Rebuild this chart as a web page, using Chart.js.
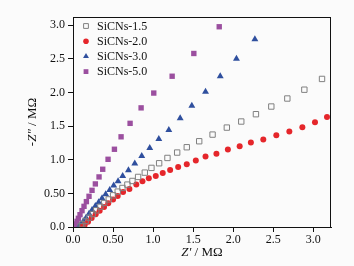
<!DOCTYPE html>
<html>
<head>
<meta charset="utf-8">
<script src="https://cdn.jsdelivr.net/npm/chart.js@4"></script>
<style>
  html, body { margin: 0; padding: 0; background: #fbfbfb; }
  #wrap { width: 354px; height: 266px; }
</style>
</head>
<body>
<div id="wrap"><canvas id="myChart" width="354" height="266"></canvas></div>
<script>
// Nyquist data, Z' and -Z'' in MOhm
var names = ["SiCNs-1.5", "SiCNs-2.0", "SiCNs-3.0", "SiCNs-5.0"];

var x15 = [0.096, 0.117, 0.158, 0.2, 0.246, 0.29, 0.342, 0.39, 0.446, 0.5, 0.558, 0.617, 0.679, 0.742, 0.8125, 0.896, 0.979, 1.075, 1.179, 1.3, 1.42, 1.575, 1.742, 1.92, 2.1, 2.283, 2.475, 2.675, 2.8875, 3.108];
var y15 = [0.01, 0.04, 0.089, 0.139, 0.193, 0.248, 0.302, 0.357, 0.41, 0.471, 0.526, 0.58, 0.63, 0.684, 0.744, 0.808, 0.878, 0.947, 1.026, 1.106, 1.185, 1.274, 1.373, 1.477, 1.567, 1.676, 1.79, 1.909, 2.04, 2.20];

var x20 = [0.117, 0.146, 0.1875, 0.233, 0.283, 0.333, 0.3875, 0.44, 0.5, 0.558, 0.625, 0.704, 0.79, 0.867, 0.946, 1.033, 1.12, 1.2125, 1.3125, 1.42, 1.533, 1.654, 1.79, 1.933, 2.08, 2.22, 2.375, 2.5375, 2.7, 2.8625, 3.02, 3.17];
var y20 = [0.005, 0.035, 0.079, 0.134, 0.188, 0.243, 0.297, 0.352, 0.407, 0.461, 0.52, 0.565, 0.63, 0.679, 0.724, 0.759, 0.803, 0.848, 0.892, 0.932, 0.987, 1.046, 1.09, 1.15, 1.20, 1.254, 1.299, 1.363, 1.418, 1.482, 1.557, 1.636];

var x30 = [0.075, 0.096, 0.129, 0.1625, 0.2, 0.2375, 0.279, 0.32, 0.3625, 0.408, 0.458, 0.508, 0.5625, 0.62, 0.692, 0.771, 0.858, 0.958, 1.071, 1.196, 1.3375, 1.483, 1.654, 1.8375, 2.04, 2.27];
var y30 = [0.005, 0.035, 0.084, 0.139, 0.198, 0.253, 0.312, 0.367, 0.426, 0.486, 0.55, 0.615, 0.68, 0.759, 0.843, 0.942, 1.056, 1.175, 1.309, 1.443, 1.616, 1.80, 2.01, 2.24, 2.50, 2.79];

var x50 = [0.02, 0.033, 0.05, 0.067, 0.0875, 0.1125, 0.1375, 0.167, 0.2, 0.2375, 0.279, 0.325, 0.371, 0.4375, 0.517, 0.6, 0.7125, 0.85, 1.008, 1.2375, 1.508, 1.825];
var y50 = [0.015, 0.045, 0.084, 0.129, 0.183, 0.243, 0.307, 0.377, 0.456, 0.545, 0.64, 0.744, 0.858, 1.006, 1.155, 1.34, 1.54, 1.77, 1.99, 2.24, 2.578, 2.975];

var xTicks = ["0.0", "0.50", "1.0", "1.5", "2.0", "2.5", "3.0"];
var yTicks = ["0.0", "0.50", "1.0", "1.5", "2.0", "2.5", "3.0"];

function pts(xs, ys) {
    var out = [];
    for (var i = 0; i < xs.length; i++) {
        out.push({ x: xs[i], y: ys[i] });
    }
    return out;
}

var serif = "'Liberation Serif', 'Times New Roman', serif";

// box around the plot, legend inside, axis titles with italic Z
var framePlugin = {
    id: "frame",
    afterDraw: function (chart) {
        var ctx = chart.ctx;
        var a = chart.chartArea;
        ctx.save();
        ctx.strokeStyle = "#111";
        ctx.lineWidth = 1;
        ctx.strokeRect(a.left + 0.5, a.top + 0.5, a.right - a.left - 1, a.bottom - a.top);

        // legend
        var sets = chart.data.datasets;
        for (var i = 0; i < sets.length; i++) {
            var ly = a.top + 9 + i * 15.2;
            ctx.fillStyle = sets[i].backgroundColor;
            ctx.strokeStyle = sets[i].borderColor;
            ctx.lineWidth = sets[i].borderWidth;
            Chart.helpers.drawPoint(ctx, {
                pointStyle: sets[i].pointStyle,
                radius: sets[i].pointStyle == "circle" ? 2.8 : 3.4,
                borderWidth: sets[i].borderWidth
            }, a.left + 13, ly);
            ctx.fillStyle = "#111";
            ctx.font = "12px " + serif;
            ctx.textAlign = "left";
            ctx.textBaseline = "middle";
            ctx.fillText(sets[i].label, a.left + 24, ly + 0.5);
        }

        ctx.fillStyle = "#111";
        ctx.textBaseline = "middle";
        // x title
        var p1 = "Z\u2032", p2 = " / M\u03A9";
        ctx.font = "italic 13px " + serif;
        var w1 = ctx.measureText(p1).width;
        ctx.font = "13px " + serif;
        var w2 = ctx.measureText(p2).width;
        var cx = (a.left + a.right) / 2;
        var sx = cx - (w1 + w2) / 2;
        ctx.textAlign = "left";
        ctx.font = "italic 13px " + serif;
        ctx.fillText(p1, sx, 253);
        ctx.font = "13px " + serif;
        ctx.fillText(p2, sx + w1, 253);

        // y title
        ctx.translate(33, (a.top + a.bottom) / 2);
        ctx.rotate(-Math.PI / 2);
        var q0 = "-", q1 = "Z\u2033", q2 = " / M\u03A9";
        ctx.font = "13px " + serif;
        var v0 = ctx.measureText(q0).width;
        var v2 = ctx.measureText(q2).width;
        ctx.font = "italic 13px " + serif;
        var v1 = ctx.measureText(q1).width;
        var s = -(v0 + v1 + v2) / 2;
        ctx.font = "13px " + serif;
        ctx.fillText(q0, s, 0);
        ctx.font = "italic 13px " + serif;
        ctx.fillText(q1, s + v0, 0);
        ctx.font = "13px " + serif;
        ctx.fillText(q2, s + v0 + v1, 0);
        ctx.restore();
    }
};

var ctx = document.getElementById("myChart").getContext("2d");

var myChart = new Chart(ctx, {
    type: "scatter",
    data: {
        datasets: [
            {
                label: names[0],
                data: pts(x15, y15),
                pointStyle: "rect",
                pointRadius: 3.8,
                borderWidth: 1,
                borderColor: "#808080",
                backgroundColor: "rgba(255,255,255,0)"
            },
            {
                label: names[1],
                data: pts(x20, y20),
                pointStyle: "circle",
                pointRadius: 3,
                borderWidth: 0,
                borderColor: "#e5262b",
                backgroundColor: "#e5262b"
            },
            {
                label: names[2],
                data: pts(x30, y30),
                pointStyle: "triangle",
                pointRadius: 4,
                borderWidth: 0,
                borderColor: "#2f4f9e",
                backgroundColor: "#2f4f9e"
            },
            {
                label: names[3],
                data: pts(x50, y50),
                pointStyle: "rect",
                pointRadius: 3.8,
                borderWidth: 0,
                borderColor: "#9b4f9f",
                backgroundColor: "#9b4f9f"
            }
        ]
    },
    options: {
        responsive: false,
        animation: false,
        layout: { padding: { left: 0, right: 23, top: 17, bottom: 0 } },
        plugins: {
            tooltip: { enabled: false },
            legend: { display: false }
        },
        scales: {
            x: {
                type: "linear",
                min: 0,
                max: 3.22,
                afterFit: function (scale) { scale.height = 39; },
                border: { display: true, color: "#111", width: 1 },
                grid: { drawOnChartArea: false, drawTicks: true, tickLength: 5, color: "#111" },
                ticks: {
                    stepSize: 0.5,
                    includeBounds: false,
                    maxRotation: 0,
                    padding: 1,
                    color: "#111",
                    font: { family: serif, size: 12 },
                    callback: function (v) {
                        var i = Math.round(v / 0.5);
                        return xTicks[i];
                    }
                }
            },
            y: {
                type: "linear",
                min: 0,
                max: 3.12,
                afterFit: function (scale) { scale.width = 73; },
                border: { display: true, color: "#111", width: 1 },
                grid: { drawOnChartArea: false, drawTicks: true, tickLength: 5, color: "#111" },
                ticks: {
                    stepSize: 0.5,
                    includeBounds: false,
                    padding: 3,
                    color: "#111",
                    font: { family: serif, size: 12 },
                    callback: function (v) {
                        var i = Math.round(v / 0.5);
                        return yTicks[i];
                    }
                }
            }
        }
    },
    plugins: [framePlugin]
});
</script>
</body>
</html>
